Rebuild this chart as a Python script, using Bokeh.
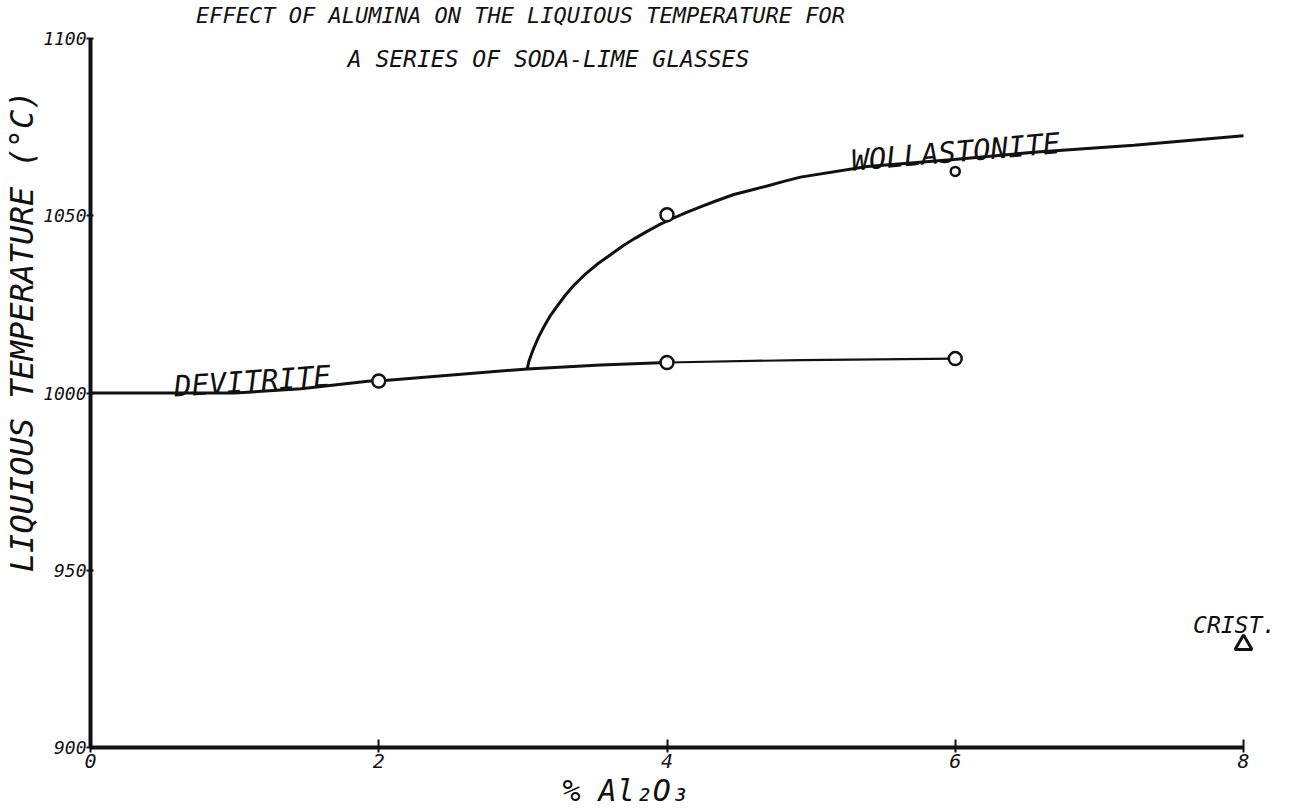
import math

from bokeh.plotting import figure
from bokeh.models import Label, Range1d, FixedTicker, Title
from bokeh.embed import file_html
from bokeh.resources import INLINE

# Axis ticks
al2o3_ticks = [0, 2, 4, 6, 8]
temp_ticks = [900, 950, 1000, 1050, 1100]

# Devitrite liquidus (lower branch): % Al2O3 vs. temperature (deg C)
devitrite_x = [0.0, 1.0, 1.46, 1.94, 2.0, 3.03, 3.54, 4.0, 4.93, 6.0]
devitrite_y = [1000.0, 1000.0, 1001.2, 1003.4, 1003.4, 1006.8, 1007.9, 1008.6, 1009.3, 1009.7]

# Wollastonite liquidus (upper branch)
wollastonite_x = [3.03, 3.041, 3.058, 3.076, 3.108, 3.145, 3.187, 3.238, 3.293,
                  3.354, 3.427, 3.515, 3.608, 3.700, 3.781, 3.862, 3.943, 4.024,
                  4.128, 4.232, 4.348, 4.464, 4.579, 4.695, 4.811, 4.926, 5.389,
                  5.990, 6.545, 7.239, 8.0]
wollastonite_y = [1006.8, 1008.8, 1010.8, 1012.7, 1015.7, 1018.6, 1021.6, 1024.5,
                  1027.5, 1030.4, 1033.3, 1036.3, 1039.0, 1041.7, 1043.7, 1045.6,
                  1047.4, 1049.0, 1050.8, 1052.5, 1054.3, 1056.0, 1057.2, 1058.4,
                  1059.7, 1060.9, 1063.9, 1065.9, 1067.9, 1069.9, 1072.6]

# Measured points
devitrite_pts_x = [2, 4, 6]
devitrite_pts_y = [1003.4, 1008.6, 1009.7]
wollastonite_pts_x = [4, 6]
wollastonite_pts_y = [1050.3, 1062.5]
crist_pts_x = [8]
crist_pts_y = [929.0]

FONT = "DejaVu Sans Mono"
INK = "#111111"

# frame edges in page pixels; the frame spans the right and top margins so
# that headings and end labels are not clipped
LEFT, BOTTOM = 90, 747
X_END = 8 + (1292 - 1243) / 144.125
Y_END = 1100 + 38 / 3.545

p = figure(
    width=1292, height=812, title=None,
    x_range=Range1d(0, X_END), y_range=Range1d(900, Y_END),
    output_backend="svg", toolbar_location=None,
    min_border_left=LEFT, min_border_right=0,
    min_border_top=0, min_border_bottom=812 - BOTTOM,
    background_fill_color="white", border_fill_color="white",
)
p.outline_line_color = None
p.grid.visible = False

for ax in (p.xaxis[0], p.yaxis[0]):
    ax.axis_line_width = 4
    ax.axis_line_color = INK
    ax.major_tick_line_color = INK
    ax.major_tick_line_width = 2
    ax.minor_tick_line_color = None
    ax.major_label_text_font = FONT
    ax.major_label_text_font_style = "italic"
    ax.major_label_text_color = INK

p.xaxis.bounds = (0, 8)
p.xaxis.ticker = FixedTicker(ticks=al2o3_ticks)
p.xaxis.major_tick_in = 8
p.xaxis.major_tick_out = 5
p.xaxis.major_label_standoff = 1
p.xaxis.major_label_text_font_size = "20px"

p.yaxis.bounds = (900, 1100)
p.yaxis.ticker = FixedTicker(ticks=temp_ticks)
p.yaxis.major_tick_in = 3
p.yaxis.major_tick_out = 4
p.yaxis.major_label_standoff = 0
p.yaxis.major_label_text_font_size = "18px"

# axis titles
p.add_layout(Title(text="LIQUIOUS TEMPERATURE (°C)", align="right", offset=90,
                   standoff=0, text_font=FONT, text_font_style="italic",
                   text_font_size="32px", text_color=INK), "left")
p.add_layout(Title(text="% Al₂O₃", align="left", offset=472, standoff=0,
                   text_font=FONT, text_font_style="italic",
                   text_font_size="30px", text_color=INK), "below")

# curves
p.line(devitrite_x[:8], devitrite_y[:8], line_width=3, line_color=INK)
p.line(devitrite_x[7:], devitrite_y[7:], line_width=2.2, line_color=INK)
p.line(wollastonite_x, wollastonite_y, line_width=3, line_color=INK)

# data markers
p.scatter(devitrite_pts_x, devitrite_pts_y, marker="circle", size=13,
          fill_color="white", line_color=INK, line_width=2.5)
p.scatter(wollastonite_pts_x[:1], wollastonite_pts_y[:1], marker="circle", size=13,
          fill_color="white", line_color=INK, line_width=2.5)
p.scatter(wollastonite_pts_x[1:], wollastonite_pts_y[1:], marker="circle", size=9,
          fill_color="white", line_color=INK, line_width=2.5)
p.scatter(crist_pts_x, crist_pts_y, marker="triangle", size=17,
          fill_color="white", line_color=INK, line_width=3)


def page_label(text, px, py, size):
    """Heading text placed by page pixel position (frame screen units)."""
    p.add_layout(Label(
        x=px - LEFT, y=BOTTOM - py, x_units="screen", y_units="screen",
        text=text, text_align="center", text_baseline="middle",
        text_font=FONT, text_font_style="italic", text_font_size=size,
        text_color=INK,
    ))


page_label("EFFECT OF ALUMINA ON THE LIQUIOUS TEMPERATURE FOR", 520, 15, "22px")
page_label("A SERIES OF SODA-LIME GLASSES", 548, 58, "23px")


def phase_label(text, x, y, size, angle=0.0):
    p.add_layout(Label(x=x, y=y, text=text, angle=angle,
                       text_font=FONT, text_font_style="italic",
                       text_font_size=size, text_baseline="alphabetic",
                       text_color=INK))


phase_label("DEVITRITE", 0.58, 1001.8, "29px", angle=0.068)
phase_label("WOLLASTONITE", 5.28, 1065.5, "29px", angle=0.085)
phase_label("CRIST.", 7.65, 934.5, "23px")

open("out.html", "w").write(file_html(p, INLINE))
